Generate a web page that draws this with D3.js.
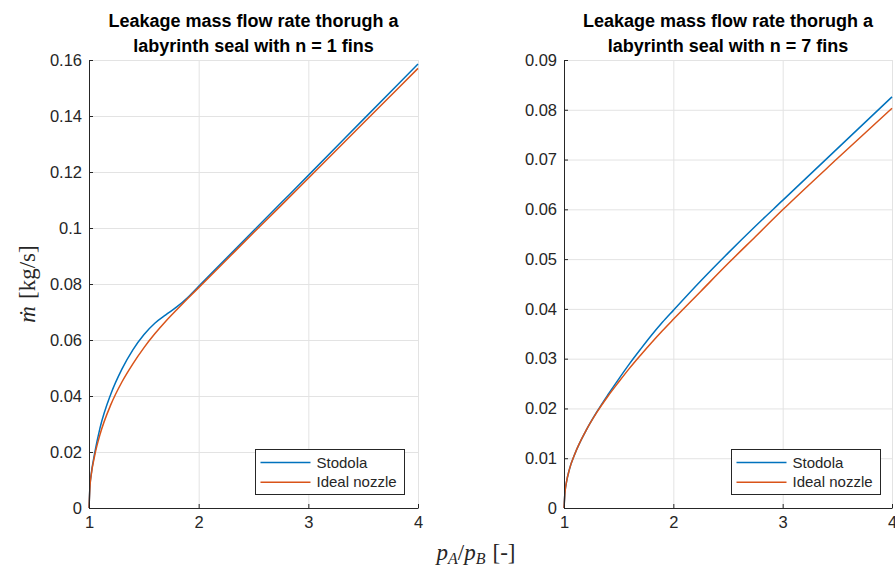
<!DOCTYPE html>
<html>
<head>
<meta charset="utf-8">
<script src="https://cdn.jsdelivr.net/npm/d3@7"></script>
<style>
  html, body { margin: 0; padding: 0; background: #fff; }
  svg { display: block; }
</style>
</head>
<body>
<svg id="chart" width="895" height="574"></svg>
<script>
// ---------- data ----------
const pressureRatio = [1, 1.01, 1.02, 1.05, 1.1, 1.2, 1.3, 1.4, 1.5, 1.6, 1.7, 1.8, 1.9, 2, 2.25, 2.5, 2.75, 3, 3.5, 4];

const stodolaN1 = [0, 0.0085, 0.0121, 0.0192, 0.0285, 0.0408, 0.0496, 0.0565, 0.0619, 0.0660, 0.0690, 0.0718, 0.0752, 0.0792, 0.0891, 0.0990, 0.1089, 0.1188, 0.1387, 0.1586];
const idealN1   = [0, 0.0083, 0.0117, 0.0184, 0.0262, 0.0370, 0.0450, 0.0515, 0.0572, 0.0622, 0.0667, 0.0708, 0.0748, 0.0787, 0.0885, 0.0983, 0.1080, 0.1178, 0.1374, 0.1570];

const stodolaN7 = [0, 0.0034, 0.0049, 0.0078, 0.0109, 0.0155, 0.0193, 0.0227, 0.0259, 0.0290, 0.0319, 0.0347, 0.0373, 0.0397, 0.0456, 0.0512, 0.0566, 0.0618, 0.0722, 0.0826];
const idealN7   = [0, 0.0034, 0.0049, 0.0078, 0.0109, 0.0155, 0.0192, 0.0224, 0.0253, 0.0281, 0.0307, 0.0332, 0.0356, 0.0379, 0.0435, 0.0491, 0.0545, 0.0599, 0.0702, 0.0803];

const xTicks = [1, 2, 3, 4];
const yTicksN1 = [0, 0.02, 0.04, 0.06, 0.08, 0.1, 0.12, 0.14, 0.16];
const yTicksN7 = [0, 0.01, 0.02, 0.03, 0.04, 0.05, 0.06, 0.07, 0.08, 0.09];

const seriesNames = ["Stodola", "Ideal nozzle"];
const seriesColors = ["#0072BD", "#D95319"];

const titlesN1 = ["Leakage mass flow rate thorugh a", "labyrinth seal with n = 1 fins"];
const titlesN7 = ["Leakage mass flow rate thorugh a", "labyrinth seal with n = 7 fins"];

// ---------- drawing ----------
const svg = d3.select("#chart");
const sansFont = "'Liberation Sans', Arial, Helvetica, sans-serif";
const serifFont = "'Liberation Serif', 'DejaVu Serif', 'Times New Roman', serif";
const axisColor = "#262626";
const gridColor = "#e3e3e3";

function panel(opts) {
  const { left, right, top, bottom, yMax, yTicks, stodola, ideal, titles, legend } = opts;
  const x = d3.scaleLinear().domain([1, 4]).range([left, right]);
  const y = d3.scaleLinear().domain([0, yMax]).range([bottom, top]);
  const g = svg.append("g");

  // grid
  const gx = g.append("g").attr("transform", `translate(0,${bottom})`)
    .call(d3.axisBottom(x).tickValues(xTicks).tickSize(-(bottom - top)).tickFormat(""));
  const gy = g.append("g").attr("transform", `translate(${left},0)`)
    .call(d3.axisLeft(y).tickValues(yTicks).tickSize(-(right - left)).tickFormat(""));
  [gx, gy].forEach(a => {
    a.select(".domain").remove();
    a.selectAll("line").attr("stroke", gridColor).attr("stroke-width", 1);
  });

  // lines
  const series = [stodola, ideal];
  series.forEach((vals, i) => {
    const line = d3.line()
      .x((d, k) => x(pressureRatio[k]))
      .y(d => y(d))
      .curve(d3.curveMonotoneX);
    g.append("path")
      .datum(vals)
      .attr("fill", "none")
      .attr("stroke", seriesColors[i])
      .attr("stroke-width", 1.5)
      .attr("d", line);
  });

  // axes
  const ax = g.append("g").attr("transform", `translate(0,${bottom})`)
    .call(d3.axisBottom(x).tickValues(xTicks).tickSizeInner(-4).tickSizeOuter(0).tickPadding(8).tickFormat(d3.format("d")));
  const ay = g.append("g").attr("transform", `translate(${left},0)`)
    .call(d3.axisLeft(y).tickValues(yTicks).tickSizeInner(-4).tickSizeOuter(0).tickPadding(7).tickFormat(d => d === 0 ? "0" : String(+d.toFixed(2))));
  [ax, ay].forEach(a => {
    a.select(".domain").attr("stroke", axisColor).attr("stroke-width", 1);
    a.selectAll(".tick line").attr("stroke", axisColor);
    a.selectAll(".tick text").attr("fill", axisColor)
      .style("font-family", sansFont).style("font-size", "16.5px");
  });

  // title
  const cx = (left + right) / 2;
  titles.forEach((t, i) => {
    svg.append("text")
      .attr("x", cx).attr("y", 27 + i * 24.5)
      .attr("text-anchor", "middle")
      .style("font-family", sansFont)
      .style("font-size", "18px")
      .style("font-weight", "bold")
      .attr("fill", "#000")
      .text(t);
  });

  // legend
  const lg = svg.append("g");
  lg.append("rect")
    .attr("x", legend.x0).attr("y", legend.y0)
    .attr("width", legend.x1 - legend.x0).attr("height", legend.y1 - legend.y0)
    .attr("fill", "#fff").attr("stroke", axisColor).attr("stroke-width", 1);
  seriesNames.forEach((name, i) => {
    const yy = legend.y0 + 13 + i * 19.7;
    lg.append("line")
      .attr("x1", legend.x0 + 5).attr("x2", legend.x0 + 55)
      .attr("y1", yy).attr("y2", yy)
      .attr("stroke", seriesColors[i]).attr("stroke-width", 1.5);
    lg.append("text")
      .attr("x", legend.x0 + 61).attr("y", yy + 5)
      .style("font-family", sansFont).style("font-size", "15px")
      .attr("fill", axisColor)
      .text(name);
  });
}

panel({ left: 89, right: 418, top: 60, bottom: 508, yMax: 0.16, yTicks: yTicksN1,
        stodola: stodolaN1, ideal: idealN1, titles: titlesN1,
        legend: { x0: 255.5, y0: 449.5, x1: 404.5, y1: 494.5 } });
panel({ left: 564, right: 892, top: 60, bottom: 508, yMax: 0.09, yTicks: yTicksN7,
        stodola: stodolaN7, ideal: idealN7, titles: titlesN7,
        legend: { x0: 731.5, y0: 449.5, x1: 880.5, y1: 494.5 } });

// y label
const yl = svg.append("text")
  .attr("transform", "translate(35,284) rotate(-90)")
  .attr("text-anchor", "middle")
  .style("font-family", serifFont)
  .style("font-size", "23px")
  .attr("fill", axisColor);
yl.append("tspan").style("font-style", "italic").text("ṁ");
yl.append("tspan").attr("dx", 7).text("[kg/s]");

// x label
const xl = svg.append("text")
  .attr("x", 476).attr("y", 560)
  .attr("text-anchor", "middle")
  .style("font-family", serifFont)
  .style("font-size", "23px")
  .attr("fill", axisColor);
xl.append("tspan").style("font-style", "italic").text("p");
xl.append("tspan").style("font-style", "italic").style("font-size", "16px").attr("dy", 4).text("A");
xl.append("tspan").attr("dy", -4).text("/");
xl.append("tspan").style("font-style", "italic").text("p");
xl.append("tspan").style("font-style", "italic").style("font-size", "16px").attr("dy", 4).text("B");
xl.append("tspan").attr("dy", -4).attr("dx", 7).text("[-]");
</script>
</body>
</html>
